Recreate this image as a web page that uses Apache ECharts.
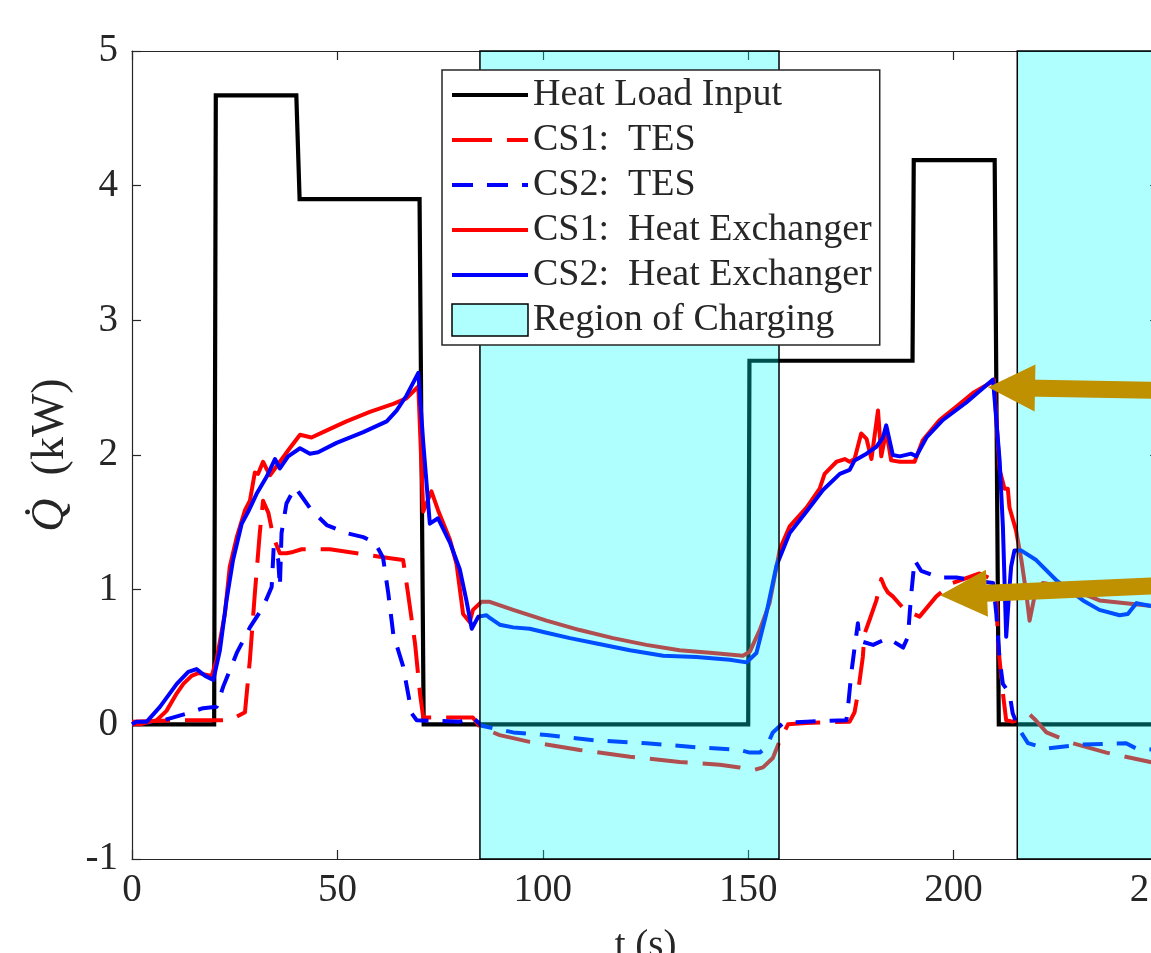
<!DOCTYPE html>
<html>
<head>
<meta charset="utf-8">
<script src="https://cdn.jsdelivr.net/npm/echarts@6/dist/echarts.min.js"></script>
<style>html,body{margin:0;padding:0;background:#fff;}#c{width:1151px;height:953px;}</style>
</head>
<body>
<div id="c"></div>
<script>
// ---- data (t in s, Q in kW) ----
const xTicks = [0, 50, 100, 150, 200, 250];
const yTicks = [-1, 0, 1, 2, 3, 4, 5];

const heatLoad = [[0,0],[20,0],[20.4,4.67],[40,4.67],[40.8,3.9],[70,3.9],[71,0],[150,0],[150.3,2.7],[190,2.7],[190.3,4.19],[210,4.19],[211,0],[250,0]];

const cs1Tes = [[0,0.02],[10,0.03],[23.8,0.03],[27.5,0.09],[28.7,0.48],[29.9,0.97],[31.1,1.42],[31.9,1.66],[33.2,1.57],[34.4,1.39],[36,1.27],[37.6,1.27],[39.2,1.28],[41.3,1.30],[48.2,1.30],[54.7,1.27],[61.1,1.24],[66,1.22],[67.2,0.97],[68.9,0.60],[70.1,0.23],[70.9,0.05],[83,0.05],[84.7,-0.02],[89.5,-0.08],[96.8,-0.13],[109,-0.19],[121.2,-0.24],[133.3,-0.28],[143.1,-0.30],[147.9,-0.32],[151.2,-0.34],[153.6,-0.32],[156,-0.25],[157.7,-0.12],[159.7,0.0],[164.2,0.01],[174.7,0.02],[175.9,0.09],[176.7,0.23],[177.9,0.50],[178.3,0.67],[179.6,0.78],[181.2,0.92],[182.4,1.08],[183.2,1.02],[184,0.98],[185.2,0.95],[188.1,0.85],[191.7,0.80],[195.8,0.95],[199.8,1.05],[206.3,1.12],[210,1.07],[210.4,0.97],[210.8,0.60],[212,0.23],[212.8,0.03],[214.4,0.02],[216.3,0.04],[218.3,0.08],[220,0.03],[222.6,-0.06],[229,-0.14],[237.2,-0.21],[247.9,-0.28],[250,-0.29]];

const cs2Tes = [[0,0],[1.1,0.005],[7.6,0.03],[13.3,0.08],[17.3,0.12],[20.6,0.13],[22.2,0.28],[25.5,0.53],[28.7,0.72],[31.9,0.87],[34,1.02],[34.5,1.32],[35.6,1.22],[36,1.02],[36.4,1.42],[37.6,1.64],[39.7,1.76],[40.9,1.71],[43.7,1.59],[47.4,1.48],[52.2,1.42],[56.3,1.39],[59.1,1.35],[61.1,1.24],[62.4,0.97],[63.6,0.67],[66,0.43],[68.1,0.08],[69.3,0.03],[79.8,0.02],[82,0.04],[83,0.05],[85.1,-0.01],[92.8,-0.06],[100.9,-0.08],[113.1,-0.12],[125.2,-0.14],[137.4,-0.17],[147.9,-0.19],[150.4,-0.21],[152.8,-0.21],[154.4,-0.17],[156,-0.06],[158.5,0.01],[164.2,0.02],[173.9,0.03],[174.3,0.13],[175.1,0.38],[175.9,0.57],[176.7,0.75],[177.1,0.62],[180.4,0.59],[184,0.64],[187.7,0.57],[188.9,0.65],[189.3,0.82],[189.7,0.97],[190.5,1.22],[190.9,1.22],[192.1,1.14],[196.6,1.09],[200.7,1.09],[204.7,1.07],[209.6,1.05],[210.4,0.82],[211.2,0.48],[212,0.30],[213.6,0.23],[214.4,0.08],[216,-0.04],[218.1,-0.14],[222.6,-0.18],[231.5,-0.15],[242,-0.14],[244.5,-0.18],[250,-0.19]];

const cs1Hx = [[0,0],[2,0],[4.4,0.02],[6,0.03],[8.4,0.10],[10.9,0.23],[12.5,0.30],[14.5,0.36],[16.1,0.38],[19.4,0.36],[20.6,0.48],[22.6,0.82],[23.8,1.17],[25.5,1.39],[27.5,1.59],[28.7,1.66],[29.9,1.87],[30.7,1.86],[31.9,1.95],[32.7,1.9],[33.6,1.85],[36,1.95],[38.4,2.05],[40.9,2.15],[43.7,2.13],[46.5,2.17],[52.2,2.25],[57.9,2.32],[63.6,2.38],[66.8,2.42],[69.7,2.51],[70.9,1.58],[72.9,1.73],[74.5,1.59],[77.4,1.37],[79,1.19],[80.6,0.82],[82.2,0.76],[83,0.85],[85.1,0.91],[87.1,0.91],[92.8,0.85],[100.9,0.77],[109,0.70],[117.1,0.64],[125.2,0.59],[133.3,0.55],[141.4,0.53],[148.7,0.51],[150.4,0.54],[152.8,0.70],[155.2,0.90],[157.7,1.30],[160.1,1.47],[164.2,1.61],[167.4,1.75],[168.6,1.86],[171.5,1.95],[173.5,1.97],[174.7,1.95],[175.9,1.97],[177.5,2.16],[178.8,2.12],[180,1.97],[181.6,2.33],[182.4,1.99],[183.6,2.18],[184.8,1.96],[186.9,1.95],[190.5,1.95],[192.5,2.11],[196.6,2.26],[200.7,2.36],[204.7,2.46],[209.2,2.54],[209.8,2.56],[211.2,1.89],[212.4,1.75],[213.2,1.75],[213.6,1.61],[215.2,1.44],[216.5,1.22],[217.7,0.97],[218.5,0.77],[219.7,0.95],[221.7,1.05],[227.4,1.02],[235.5,0.92],[247.7,0.88],[250,0.87]];

const cs2Hx = [[0,0],[1.1,0.02],[3.6,0.02],[6.8,0.13],[10.9,0.30],[13.7,0.39],[15.7,0.41],[17.8,0.36],[19.8,0.33],[21.4,0.55],[23,0.92],[24.6,1.22],[26.7,1.49],[28.3,1.58],[30.3,1.71],[32.8,1.84],[34.8,1.97],[36,1.90],[38,1.99],[40.9,2.05],[43.3,2.01],[45.3,2.02],[49.8,2.09],[56.3,2.17],[62,2.25],[64.4,2.33],[66.8,2.44],[69.7,2.61],[70.9,2.09],[72.5,1.49],[74.5,1.53],[77.4,1.35],[79.8,1.15],[81.4,0.92],[82.7,0.71],[84.3,0.80],[86.3,0.81],[87.1,0.79],[89.5,0.74],[92.8,0.72],[96.8,0.71],[100.9,0.68],[106.6,0.64],[113.1,0.60],[121.2,0.55],[129.3,0.51],[137.4,0.50],[145.5,0.48],[149.6,0.46],[152,0.53],[154.4,0.82],[156.9,1.18],[160.1,1.42],[164.2,1.58],[168.2,1.74],[172.3,1.86],[174.7,1.89],[175.9,1.96],[178.8,2.01],[181.2,2.06],[182.8,2.13],[183.6,2.22],[185.2,2.00],[186.9,1.99],[189.7,2.01],[190.9,1.99],[193.4,2.13],[197.4,2.26],[203.1,2.39],[209.6,2.56],[210,2.56],[211.2,1.96],[212,1.47],[212.8,0.65],[213.5,0.97],[214,1.17],[214.8,1.29],[216.5,1.29],[220.1,1.22],[225,1.07],[231.5,0.92],[235.5,0.85],[240.4,0.81],[242.4,0.82],[244.5,0.90],[247.7,0.88],[250,0.88]];

// charging regions [start, end] in s
const chargingStart = [84.7, 215.5];
const chargingEnd = [157.5, 250];

// annotation arrows: [tail t, tail Q, head t, head Q]
const arrows = [[250, 2.48, 214.1, 2.50], [250, 1.03, 202.4, 0.966]];

const names = ['Heat Load Input', 'CS1: TES', 'CS2: TES', 'CS1: Heat Exchanger', 'CS2: Heat Exchanger', 'Region of Charging'];

// ---- chart ----
const FONT = 'Liberation Serif';
const AX = '#262626';
const chart = echarts.init(document.getElementById('c'), null, {renderer: 'canvas'});

const axisCommon = {
  type: 'value',
  axisLine: {show: true, onZero: false, lineStyle: {color: AX, width: 1.2}},
  axisTick: {show: true, inside: true, length: 9, lineStyle: {color: AX, width: 1.2}},
  splitLine: {show: false}
};

const regionsData = chargingStart.map((s, i) => [{xAxis: s, yAxis: yTicks[0]}, {xAxis: chargingEnd[i], yAxis: yTicks[yTicks.length - 1]}]);
const arrowData = arrows.map(a => [{coord: [a[0], a[1]]}, {coord: [a[2], a[3]]}]);

const hideSym = {opacity: 0};

const option = {
  animation: false,
  backgroundColor: '#fff',
  grid: {left: 132, top: 51, right: -8, bottom: 94, containLabel: false, outerBoundsMode: 'none'},
  xAxis: [
    Object.assign({}, axisCommon, {
      position: 'bottom', min: 0, max: 250, interval: 50,
      axisLabel: {show: true, margin: 12, fontFamily: FONT, fontSize: 39, color: AX, showMaxLabel: true, hideOverlap: false},
      name: 't (s)', nameLocation: 'middle', nameGap: 68,
      nameTextStyle: {fontFamily: FONT, fontSize: 39, color: AX}
    }),
    Object.assign({}, axisCommon, {position: 'top', min: 0, max: 250, interval: 50, axisLabel: {show: false}})
  ],
  yAxis: [
    Object.assign({}, axisCommon, {
      position: 'left', min: -1, max: 5, interval: 1,
      axisLabel: {show: true, margin: 14, fontFamily: FONT, fontSize: 39, color: AX},
      name: '{q|Q̇}  (kW)', nameLocation: 'middle', nameGap: 58,
      nameTextStyle: {fontFamily: FONT, fontSize: 46, color: AX, rich: {q: {fontFamily: FONT, fontSize: 46, fontStyle: 'italic', color: AX}}}
    }),
    Object.assign({}, axisCommon, {position: 'right', min: -1, max: 5, interval: 1, axisLabel: {show: false}})
  ],
  legend: {
    show: true, z: 30, orient: 'vertical', left: 442, top: 70,
    padding: [6, 8, 6, 8], itemGap: 7, itemWidth: 76, itemHeight: 32,
    backgroundColor: '#fff', borderColor: AX, borderWidth: 1.5, borderRadius: 0,
    selectedMode: false,
    formatter: n => n.replace(': ', ':  '),
    textStyle: {fontFamily: FONT, fontSize: 38, color: AX},
    data: [
      {name: names[0], itemStyle: hideSym, lineStyle: {width: 4, type: 'solid', color: '#000'}},
      {name: names[1], itemStyle: hideSym, lineStyle: {width: 4, type: [40, 15], color: '#ff0000'}},
      {name: names[2], itemStyle: hideSym, lineStyle: {width: 4, type: [21, 14], color: '#0000ff'}},
      {name: names[3], itemStyle: hideSym, lineStyle: {width: 4, type: 'solid', color: '#ff0000'}},
      {name: names[4], itemStyle: hideSym, lineStyle: {width: 4, type: 'solid', color: '#0000ff'}},
      {name: names[5], icon: 'rect', itemStyle: {color: '#b0ffff', borderColor: '#000', borderWidth: 1.5}}
    ]
  },
  series: [
    {name: names[0], type: 'line', data: heatLoad, symbol: 'none', z: 2, color: '#000',
     lineStyle: {color: '#000', width: 4.2, join: 'miter'}},
    {name: names[1], type: 'line', data: cs1Tes, symbol: 'none', z: 3, color: '#ff0000',
     lineStyle: {color: '#ff0000', width: 4, type: [38, 15], join: 'round'}},
    {name: names[2], type: 'line', data: cs2Tes, symbol: 'none', z: 4, color: '#0000ff',
     lineStyle: {color: '#0000ff', width: 4, type: [20, 14], join: 'round'}},
    {name: names[3], type: 'line', data: cs1Hx, symbol: 'none', z: 5, color: '#ff0000',
     lineStyle: {color: '#ff0000', width: 4, join: 'round'}},
    {name: names[4], type: 'line', data: cs2Hx, symbol: 'none', z: 6, color: '#0000ff',
     lineStyle: {color: '#0000ff', width: 4, join: 'round'}},
    {name: names[5], type: 'line', data: [], symbol: 'none', z: 10, color: '#b0ffff',
     markArea: {silent: true, z: 10, label: {show: false},
       itemStyle: {color: 'rgba(0,255,255,0.31)', borderColor: '#000', borderWidth: 1.5},
       data: regionsData}},
    {name: 'arrows', type: 'line', data: [], symbol: 'none', z: 15,
     markLine: {silent: true, z: 15, symbol: ['none', 'triangle'], symbolSize: [47, 47], animation: false,
       label: {show: false},
       lineStyle: {color: '#bf9000', width: 17, type: 'solid', cap: 'butt'},
       itemStyle: {color: '#bf9000'},
       emphasis: {disabled: true},
       data: arrowData}}
  ]
};
chart.setOption(option);
</script>
</body>
</html>
